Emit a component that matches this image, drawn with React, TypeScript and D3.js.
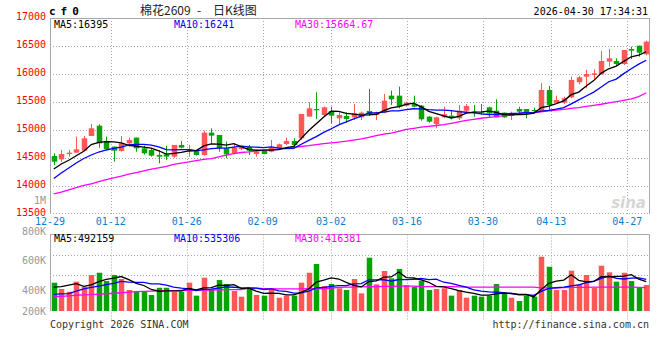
import React from "react";
import * as d3 from "d3";

const dates = [
  "12-29","12-30","12-31",
  "01-05","01-06","01-07","01-08","01-09",
  "01-12","01-13","01-14","01-15","01-16",
  "01-19","01-20","01-21","01-22","01-23",
  "01-26","01-27","01-28","01-29","01-30",
  "02-02","02-03","02-04","02-05","02-06",
  "02-09","02-10","02-11","02-12","02-13",
  "02-24","02-25","02-26","02-27",
  "03-02","03-03","03-04","03-05","03-06",
  "03-09","03-10","03-11","03-12","03-13",
  "03-16","03-17","03-18","03-19","03-20",
  "03-23","03-24","03-25","03-26","03-27",
  "03-30","03-31","04-01","04-02","04-03",
  "04-07","04-08","04-09","04-10",
  "04-13","04-14","04-15","04-16","04-17",
  "04-20","04-21","04-22","04-23","04-24",
  "04-27","04-28","04-29","04-30",
];

const opens = [
  14536,14476,14571,14595,14631,14893,15077,14804,14703,14625,
  14762,14864,14673,14643,14554,14566,14524,14733,14637,14625,
  14554,14953,14911,14673,14584,14661,14703,14572,14625,14613,
  14673,14750,14804,14852,15239,15375,15268,15340,15209,15250,
  15226,15226,15339,15268,15310,15613,15613,15435,15464,15435,
  15238,15107,15226,15256,15209,15345,15328,15316,15405,15345,
  15310,15250,15375,15375,15357,15340,15715,15488,15488,15584,
  15852,15953,15983,15994,16221,16232,16179,16447,16506,16352,
];
const highs = [
  14583,14643,14643,14881,14893,15107,15101,14881,14703,14893,
  14864,14864,14720,14673,14643,14715,14733,14804,14733,14643,
  14989,15030,14911,14792,14762,14715,14733,14625,14637,14822,
  14757,14864,14852,15286,15494,15673,15417,15417,15315,15316,
  15464,15328,15732,15328,15643,15703,15774,15506,15613,15447,
  15250,15238,15417,15357,15447,15464,15447,15464,15417,15548,
  15310,15328,15417,15375,15399,15834,15786,15613,15596,15953,
  15965,16072,16084,16411,16447,16280,16429,16488,16506,16595,
];
const lows = [
  14375,14434,14524,14595,14631,14893,14684,14655,14435,14613,
  14703,14613,14560,14524,14405,14465,14506,14673,14524,14542,
  14542,14745,14613,14495,14566,14643,14554,14524,14566,14602,
  14661,14733,14685,14822,15239,15197,15239,15120,15089,15130,
  15179,15179,15250,15179,15298,15447,15387,15417,15405,15167,
  15131,15030,15209,15191,15179,15328,15238,15268,15226,15226,
  15220,15179,15298,15209,15298,15340,15346,15488,15465,15566,
  15816,15744,15905,15994,16131,16149,16161,16268,16310,16334,
];
const closes = [
  14434,14571,14595,14655,14851,15030,14762,14661,14631,14762,
  14822,14673,14584,14542,14524,14524,14733,14685,14661,14554,
  14953,14899,14673,14566,14685,14697,14631,14613,14572,14685,
  14745,14804,14733,15286,15387,15352,15405,15256,15268,15197,
  15298,15310,15280,15316,15524,15548,15417,15488,15417,15191,
  15149,15226,15280,15226,15345,15429,15316,15304,15298,15226,
  15226,15298,15328,15310,15340,15715,15447,15536,15566,15893,
  15941,16000,16012,16232,16280,16179,16429,16417,16381,16578,
];
const volumes = [
  479000,417000,390000,489000,439000,555000,577000,495000,555000,515000,
  407000,390000,390000,358000,429000,429000,390000,390000,479000,351000,
  528000,407000,505000,466000,397000,341000,417000,358000,351000,407000,
  331000,351000,351000,479000,577000,663000,446000,466000,424000,407000,
  515000,374000,725000,463000,594000,522000,614000,456000,439000,498000,
  407000,417000,424000,351000,407000,331000,351000,341000,351000,466000,
  374000,331000,298000,351000,341000,735000,636000,407000,407000,597000,
  466000,555000,429000,646000,581000,489000,577000,495000,429000,456000,
];

// moving-average values at the first days (their history lies before the window)
const ma5Head = [14304, 14393, 14460, 14540];
const ma10Head = [14134, 14232, 14321, 14411, 14491, 14554, 14607, 14643, 14670];
const ma30 = [
  13860,13890,13930,13970,14010,14040,14080,14115,14145,14175,
  14210,14240,14270,14300,14325,14350,14385,14410,14430,14455,
  14475,14490,14520,14550,14580,14598,14610,14625,14640,14650,
  14660,14672,14690,14705,14720,14740,14755,14770,14785,14800,
  14820,14840,14870,14900,14925,14945,14975,15010,15030,15050,
  15065,15080,15095,15120,15145,15170,15190,15210,15225,15240,
  15255,15275,15295,15305,15315,15325,15340,15355,15370,15385,
  15400,15420,15440,15460,15485,15505,15530,15555,15595,15665,
];
const volMa5Head = [436000, 441000, 455000, 470000];
const volMa10Head = [364000, 368000, 372000, 395000, 417000, 432000, 446000, 460000, 473000];
const volMa30 = [
  341000,345000,350000,355000,358000,362000,366000,370000,375000,380000,
  385000,390000,393000,395000,398000,400000,400000,402000,403000,405000,
  407000,407000,409000,410000,410000,412000,425000,425000,420000,420000,
  418000,418000,418000,418000,420000,420000,418000,425000,432000,435000,
  436000,437000,440000,440000,442000,442000,446000,446000,446000,440000,
  440000,440000,440000,440000,438000,436000,436000,436000,436000,436000,
  436000,436000,436000,436000,436000,428000,428000,428000,430000,433000,
  433000,433000,436000,436000,436000,436000,436000,436000,433000,430000,
];

const priceTicks = [13500, 14000, 14500, 15000, 15500, 16000, 16500, 17000];
const volTickValues = [1000000, 800000, 600000, 400000, 200000];
const volTickLabels = ["1M", "800K", "600K", "400K", "200K"];
const xTickDates = ["12-29", "01-12", "01-26", "02-09", "03-02", "03-16", "03-30", "04-13", "04-27"];

const titleCode = "cf0";
const titleName = "棉花2609";
const titleKind = "日K线图";
const timestamp = "2026-04-30 17:34:31";
const priceMaLabels = ["MA5:16395", "MA10:16241", "MA30:15664.67"];
const volMaLabels = ["MA5:492159", "MA10:535306", "MA30:416381"];

const RED = "#ff5656";
const GREEN = "#05a405";
const MONO = "'DejaVu Sans Mono', monospace";
const GRID = "#a8a8a8";

function movingAvg(values: number[], n: number, head: number[]): number[] {
  return values.map((_, i) =>
    i < n - 1 ? head[i] : (d3.mean(values.slice(i - n + 1, i + 1)) as number)
  );
}

export default function App() {
  const W = 660, H = 360;
  const left = 50, right = 650, plotRight = 649.5;
  const pTop = 18, pBottom = 214;
  const vTop = 234.5, vBase = 311;

  const idx = dates.map((_, i) => i);
  const xBand = d3.scaleBand<number>().domain(idx).range([left, right]).paddingInner(0.27).paddingOuter(0.135);
  const xGrid = d3.scalePoint<number>().domain(idx).range([left, right]);
  const cx = (i: number) => (xBand(i) as number) + xBand.bandwidth() / 2;
  const y = d3.scaleLinear().domain([13500, 17000]).range([pBottom, pTop]);
  const yv = d3.scaleLinear().domain([200000, 800000]).range([vBase, 250.1]);
  const yvLabel = d3.scaleLinear().domain(volTickValues).range([200, 231, 260, 290.7, 311]);

  const ma5 = movingAvg(closes, 5, ma5Head);
  const ma10 = movingAvg(closes, 10, ma10Head);
  const vma5 = movingAvg(volumes, 5, volMa5Head);
  const vma10 = movingAvg(volumes, 10, volMa10Head);

  const priceLine = d3.line<number>().x((_, i) => cx(i)).y((d) => y(d));
  const volLine = d3.line<number>().x((_, i) => cx(i)).y((d) => yv(d));

  const bw = xBand.bandwidth();
  const gridXs = xTickDates.map((d) => Math.round(xGrid(dates.indexOf(d)) as number) + 0.5);

  return (
    <svg
      width={W}
      height={H}
      style={{ position: "absolute", left: 0, top: 0, background: "#fff" }}
      fontFamily={MONO}
    >
      <rect x={0} y={0} width={W} height={H} fill="#fff" />
      {/* title row */}
      <text x={49} y={15} fontSize={11} fontWeight="bold" letterSpacing={5} fill="#000">
        {titleCode}
      </text>
      <text x={140} y={15} fontSize={12} fontFamily="'Noto Sans CJK SC', sans-serif" fill="#222">
        {titleName}
      </text>
      <text x={197} y={15} fontSize={12} fontFamily="'Noto Sans CJK SC', sans-serif" fill="#222">-</text>
      <text x={213} y={15} fontSize={12} fontFamily="'Noto Sans CJK SC', sans-serif" fill="#222">
        {titleKind}
      </text>
      <text x={648} y={15} fontSize={10} textAnchor="end" fill="#000">
        {timestamp}
      </text>

      {/* price panel grid */}
      <clipPath id="pclip">
        <rect x={left} y={pTop} width={plotRight - left} height={pBottom - pTop} />
      </clipPath>
      {priceTicks.slice(1, -1).map((t) => (
        <line key={t} x1={left} x2={plotRight} y1={Math.round(y(t)) + 0.5} y2={Math.round(y(t)) + 0.5}
          stroke={GRID} strokeDasharray="1,2" />
      ))}
      {gridXs.slice(1).map((gx, k) => (
        <line key={k} x1={gx} x2={gx} y1={pTop} y2={pBottom} stroke={GRID} strokeDasharray="1,2" />
      ))}
      <line x1={left} x2={plotRight} y1={pBottom - 0.5} y2={pBottom - 0.5} stroke={GRID} strokeDasharray="1,2" />
      <line x1={left} x2={plotRight} y1={pTop + 0.5} y2={pTop + 0.5} stroke={GRID} />
      <line x1={left + 0.5} x2={left + 0.5} y1={pTop} y2={pBottom} stroke={GRID} />
      <line x1={plotRight} x2={plotRight} y1={pTop} y2={pBottom} stroke={GRID} />

      {/* price labels */}
      {priceTicks.map((t) => (
        <text key={t} x={46} y={y(t) + 1.8} fontSize={10} textAnchor="end" fill="#f00">
          {t}
        </text>
      ))}
      <text x={46} y={yvLabel(1000000) + 3.5} fontSize={10} textAnchor="end" fill="#999">
        {volTickLabels[0]}
      </text>

      {/* watermark */}
      <text x={646} y={208} fontSize={15} fontStyle="italic" fontWeight="bold" textAnchor="end"
        fontFamily="'DejaVu Sans', sans-serif" fill="#d6d6d6">sina</text>

      {/* candles */}
      <g clipPath="url(#pclip)">
        {closes.map((c, i) => {
          const o = opens[i];
          const up = c >= o;
          const col = up ? RED : GREEN;
          const x = Math.round(cx(i)) + 0.5;
          const top = y(Math.max(o, c));
          const bot = y(Math.min(o, c));
          return (
            <g key={i}>
              <line x1={x} x2={x} y1={y(highs[i])} y2={y(lows[i])} stroke={col} strokeWidth={1} />
              <rect x={x - bw / 2} y={top} width={bw} height={Math.max(1, bot - top)} fill={col} />
            </g>
          );
        })}
        <path d={priceLine(ma30) as string} fill="none" stroke="#ff00ff" strokeWidth={1.3} />
        <path d={priceLine(ma10) as string} fill="none" stroke="#0000ff" strokeWidth={1.3} />
        <path d={priceLine(ma5) as string} fill="none" stroke="#000" strokeWidth={1.3} />
      </g>

      {/* price MA legend */}
      <text x={54} y={27.5} fontSize={10} fill="#000">{priceMaLabels[0]}</text>
      <text x={174} y={27.5} fontSize={10} fill="#0000ff">{priceMaLabels[1]}</text>
      <text x={295} y={27.5} fontSize={10} fill="#ff00ff">{priceMaLabels[2]}</text>

      {/* x labels */}
      {xTickDates.map((d, k) => (
        <text key={d} x={xGrid(dates.indexOf(d)) as number} y={224.5} fontSize={10} textAnchor="middle" fill="#0a7fd0">
          {d}
        </text>
      ))}

      {/* volume panel */}
      {[255.5, 275.5].map((gy) => (
        <line key={gy} x1={left} x2={plotRight} y1={gy} y2={gy} stroke={GRID} strokeDasharray="1,2" />
      ))}
      {gridXs.slice(1).map((gx, k) => (
        <line key={k} x1={gx} x2={gx} y1={vTop} y2={320} stroke={GRID} strokeDasharray="1,2" />
      ))}
      <line x1={left} x2={plotRight} y1={vTop} y2={vTop} stroke={GRID} />
      <line x1={left + 0.5} x2={left + 0.5} y1={vTop} y2={vBase} stroke={GRID} />
      <line x1={plotRight} x2={plotRight} y1={vTop} y2={vBase} stroke={GRID} />
      {volTickLabels.slice(1).map((l, k) => (
        <text key={l} x={46} y={yvLabel(volTickValues[k + 1]) + 3.5} fontSize={10} textAnchor="end" fill="#999">
          {l}
        </text>
      ))}
      {volumes.map((v, i) => {
        const up = closes[i] >= opens[i];
        const top = yv(v);
        return (
          <rect key={i} x={Math.round(cx(i)) + 0.5 - bw / 2} y={top} width={bw} height={vBase - top}
            fill={up ? RED : GREEN} />
        );
      })}
      <path d={volLine(volMa30) as string} fill="none" stroke="#ff00ff" strokeWidth={1.3} />
      <path d={volLine(vma10) as string} fill="none" stroke="#0000ff" strokeWidth={1.3} />
      <path d={volLine(vma5) as string} fill="none" stroke="#000" strokeWidth={1.3} />

      <text x={54} y={242} fontSize={10} fill="#000">{volMaLabels[0]}</text>
      <text x={174} y={242} fontSize={10} fill="#0000ff">{volMaLabels[1]}</text>
      <text x={295} y={242} fontSize={10} fill="#ff00ff">{volMaLabels[2]}</text>

      <text x={50} y={327.5} fontSize={10} fill="#333">Copyright 2026 SINA.COM</text>
      <text x={649} y={327.5} fontSize={10} textAnchor="end" fill="#333">http://finance.sina.com.cn</text>
    </svg>
  );
}
